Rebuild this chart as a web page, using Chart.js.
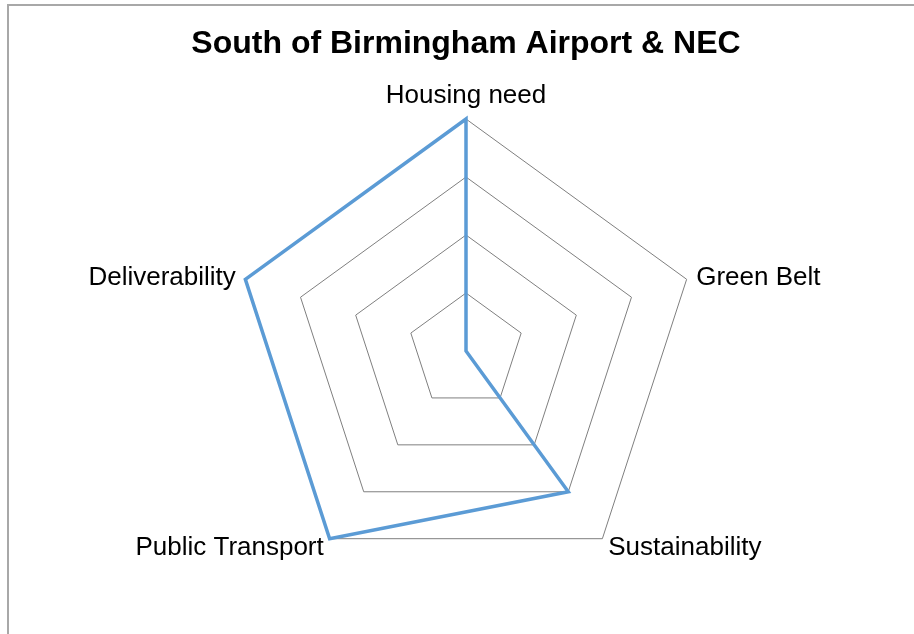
<!DOCTYPE html>
<html lang="en">
<head>
    <meta charset="UTF-8">
    <title>South of Birmingham Airport & NEC</title>
    <style>
        body { margin: 0; background: #fff; overflow: hidden; }
        #wrap { position: absolute; left: 0; top: 0; width: 914px; height: 634px; }
        #frame { position: absolute; left: 7px; top: 4px; width: 1000px; height: 1000px;
                 border-left: 2px solid #a8a8a8; border-top: 2px solid #a8a8a8; }
    </style>
</head>
<body>
    <div id="frame"></div>
    <div id="wrap"><canvas id="myChart" width="914" height="634"></canvas></div>

    <script src="https://cdn.jsdelivr.net/npm/chart.js"></script>
    <script>
        // categories and values (scale 0..4)
        const categories = ['Housing need', 'Green Belt', 'Sustainability', 'Public Transport', 'Deliverability'];
        const scores = [4, 0, 3, 4, 4];
        const scaleTicks = [0, 1, 2, 3, 4];

        const labelFont = '26px "Liberation Sans", Arial, sans-serif';

        // draws the axis labels at the scale's own point positions
        const axisLabels = {
            id: 'axisLabels',
            afterDraw(chart) {
                const scale = chart.scales.r;
                const ctx = chart.ctx;
                ctx.save();
                ctx.font = labelFont;
                ctx.fillStyle = '#000';
                categories.forEach((name, i) => {
                    const p = scale.getPointPosition(i, scale.drawingArea + 10);
                    if (Math.abs(p.x - scale.xCenter) < 1) {
                        ctx.textAlign = 'center';
                        ctx.textBaseline = p.y < scale.yCenter ? 'bottom' : 'top';
                        ctx.fillText(name, p.x, p.y);
                    } else {
                        ctx.textAlign = p.x > scale.xCenter ? 'left' : 'right';
                        ctx.textBaseline = 'middle';
                        ctx.fillText(name, p.x, p.y + 1.5);
                    }
                });
                ctx.restore();
            }
        };

        const data = {
            labels: categories,
            datasets: [{
                label: 'Score',
                data: scores,
                borderColor: '#5b9bd5',
                borderWidth: 3.5,
                fill: false,
                pointRadius: 0,
                pointHoverRadius: 0,
                tension: 0
            }]
        };

        const config = {
            type: 'radar',
            data: data,
            options: {
                responsive: false,
                animation: false,
                layout: {
                    padding: { left: 118, right: 100, top: 0, bottom: 51 }
                },
                plugins: {
                    legend: { display: false },
                    tooltip: { enabled: false },
                    title: {
                        display: true,
                        text: 'South of Birmingham Airport & NEC',
                        color: '#000',
                        font: { family: '"Liberation Sans", Arial, sans-serif', size: 32, weight: 'bold' },
                        padding: { top: 25, bottom: 55.6 }
                    }
                },
                scales: {
                    r: {
                        min: scaleTicks[0],
                        max: scaleTicks[scaleTicks.length - 1],
                        ticks: { display: false, stepSize: 1 },
                        grid: { color: '#7f7f7f', lineWidth: 1 },
                        angleLines: { display: false },
                        pointLabels: { display: false }
                    }
                }
            },
            plugins: [axisLabels]
        };

        const ctx = document.querySelector('#myChart').getContext('2d');
        new Chart(ctx, config);
    </script>
</body>
</html>
